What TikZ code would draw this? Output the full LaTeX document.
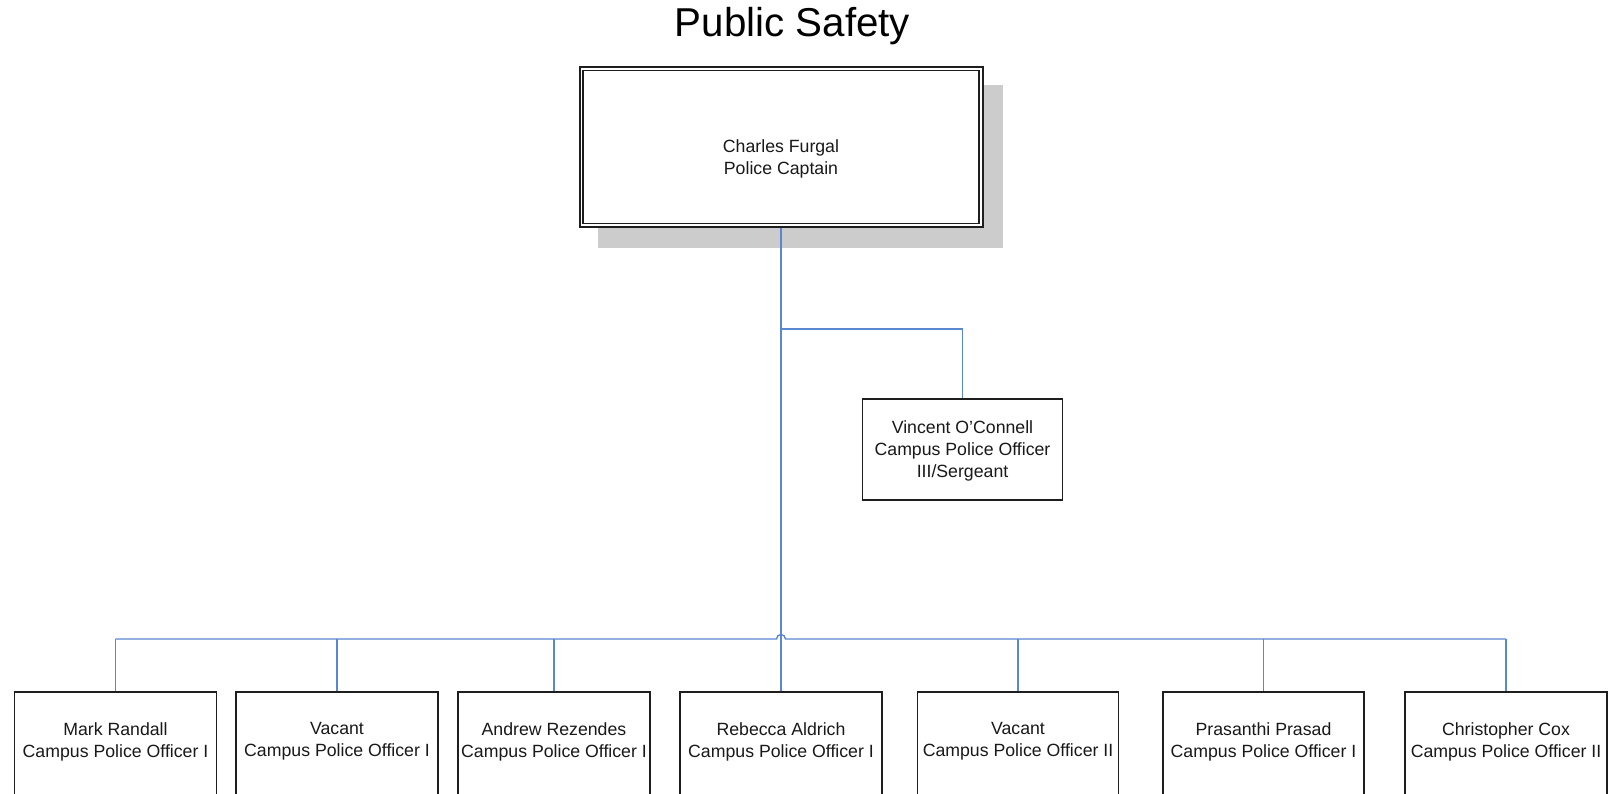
\documentclass[tikz,border=0pt]{standalone}
\usepackage{fontspec}
\setmainfont{Liberation Sans}
\definecolor{linkblue}{RGB}{91,134,209}
\definecolor{frame}{RGB}{30,30,30}
\definecolor{shadowgray}{RGB}{204,204,204}
\begin{document}
\begin{tikzpicture}[x=1pt,y=-1pt,
  box/.style={draw=frame,line width=1.4pt,fill=white,inner sep=0pt},
  staff/.style={box,minimum width=202pt,minimum height=130pt},
  wire/.style={draw=linkblue,line width=1.4pt},
  lbl/.style={align=center,font=\fontsize{17.7}{22}\selectfont,text=black!90,inner sep=0pt}]
\useasboundingbox (0,0) rectangle (1612,793);
\clip (0,0) rectangle (1612,793);

% title
\node[font=\fontsize{40.3}{44}\selectfont,anchor=base,inner sep=0pt] (title) at (792.5,36) {Public Safety};

% captain box with drop shadow and double frame
\fill[shadowgray] (598,85) rectangle (1003,248);
\node[box,line width=2pt,minimum width=403pt,minimum height=160pt] (top) at (781,147) {};
\draw[frame,line width=1.3pt] ([shift={(4.5,4.5)}]top.north west) rectangle ([shift={(-4.5,-4.5)}]top.south east);
\node[lbl] (toptext) at (781,158.5) {Charles Furgal\\Police Captain};

% sergeant
\node[box,minimum width=200pt,minimum height=101pt] (sgt) at (962.5,449.5) {};
\node[lbl] (sgttext) at (962.5,451) {Vincent O'Connell\\Campus Police Officer\\III/Sergeant};

% officers
\node[staff] (b1) at (115.5,757) {};
\node[staff] (b2) at (337,757) {};
\node[staff,minimum width=192pt] (b3) at (554,757) {};
\node[staff] (b4) at (781,757) {};
\node[staff,minimum width=201pt] (b5) at (1018,757) {};
\node[staff,minimum width=201pt] (b6) at (1263.5,757) {};
\node[staff] (b7) at (1506,757) {};

\node[lbl] (t1) at (b1 |- 0,741.5) {Mark Randall\\Campus Police Officer I};
\node[lbl] (t2) at (b2 |- 0,741.5) {Vacant\\Campus Police Officer I};
\node[lbl] (t3) at (b3 |- 0,741.5) {Andrew Rezendes\\Campus Police Officer I};
\node[lbl] (t4) at (b4 |- 0,741.5) {Rebecca Aldrich\\Campus Police Officer I};
\node[lbl] (t5) at (b5 |- 0,741.5) {Vacant\\Campus Police Officer II};
\node[lbl] (t6) at (b6 |- 0,741.5) {Prasanthi Prasad\\Campus Police Officer I};
\node[lbl] (t7) at (b7 |- 0,741.5) {Christopher Cox\\Campus Police Officer II};

% connectors
\coordinate (split) at (781,329);
\coordinate (bus) at (781,639);
\draw[wire] (top.south) -- (b4.north);
\draw[wire] (split) -| (sgt.north);
\draw[wire] (b1.north |- bus) -- ([xshift=-4.5pt]bus) arc[start angle=180,end angle=360,radius=4.5] -- (b7.north |- bus);
\foreach \b in {b1,b2,b3,b5,b6,b7}
  \draw[wire] (\b.north |- bus) -- (\b.north);
\end{tikzpicture}
\end{document}
